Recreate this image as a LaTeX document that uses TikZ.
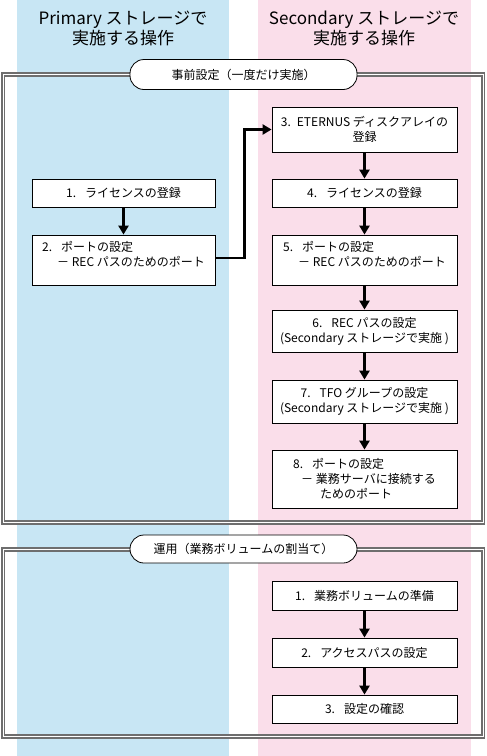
\documentclass[tikz,border=0pt]{standalone}
\usepackage{fontspec}
\setmainfont{Noto Sans CJK JP}
\usetikzlibrary{arrows.meta}
\definecolor{colblue}{RGB}{200,230,244}
\definecolor{colpink}{RGB}{250,222,234}
\definecolor{framegray}{RGB}{110,110,110}
\newcommand{\nsp}{\hspace{9pt}}
\tikzset{
  frameline/.style={draw=framegray,line width=1.5pt,double=white,double distance=1.3pt},
  pill/.style={draw=black,fill=white,line width=0.8pt,rounded corners=14pt,minimum width=227pt,minimum height=30pt,inner sep=0pt,font=\fontsize{12}{14}\selectfont},
  stepbox/.style={draw=black,fill=white,line width=0.8pt,inner sep=0pt,font=\fontsize{12}{15}\selectfont},
  lbox/.style={stepbox,minimum width=183pt},
  rbox/.style={stepbox,minimum width=185pt},
  head/.style={font=\fontsize{17}{20}\selectfont,align=center,inner sep=0pt},
  arr/.style={line width=2.8pt,-{Triangle[length=9pt,width=10pt]}}
}
\begin{document}
\begin{tikzpicture}[x=1pt,y=-1pt]
\useasboundingbox (0,0) rectangle (487,756);
% columns
\fill[colblue] (17,0) rectangle (229,756);
\fill[colpink] (258,0) rectangle (471,756);
% headers
\node[head] (hp) at (123,28) {Primary ストレージで\\実施する操作};
\node[head] (hs) at (364,28) {Secondary ストレージで\\実施する操作};
% frames
\draw[frameline] (3.3,74.5) rectangle (483.3,522.5);
\draw[frameline] (3.3,549.5) rectangle (483.3,736.5);
\node[pill] (p1) at (243.5,74.5) {事前設定（一度だけ実施）};
\node[pill,minimum height=28pt] (p2) at (243.5,549) {運用（業務ボリュームの割当て）};
% left boxes
\node[lbox,minimum height=28pt] (b1) at (123.5,193) {1.\nsp ライセンスの登録};
\node[lbox,minimum height=50pt,align=left] (b2) at (123.5,260) {2.\nsp ポートの設定\\\hspace{15pt}－ REC パスのためのポート\\[-2pt]\mbox{}};
% right boxes
\node[rbox,minimum height=45pt,align=center] (b3) at (364.5,129.5) {3.\hspace{6pt}ETERNUS ディスクアレイの\\登録};
\node[rbox,minimum height=28pt] (b4) at (364.5,193) {4.\nsp ライセンスの登録};
\node[rbox,minimum height=50pt,align=left] (b5) at (364.5,260) {5.\nsp ポートの設定\\\hspace{15pt}－ REC パスのためのポート\\[-2pt]\mbox{}};
\node[rbox,minimum height=42pt,align=center] (b6) at (364.5,331) {6.\nsp REC パスの設定\\(Secondary ストレージで実施 )};
\node[rbox,minimum height=43pt,align=center] (b7) at (364.5,401.5) {7.\nsp TFO グループの設定\\(Secondary ストレージで実施 )};
\node[rbox,minimum height=58pt,align=left] (b8) at (364.5,479) {8.\nsp ポートの設定\\\hspace{8pt}－ 業務サーバに接続する\\\hspace{27pt}ためのポート};
% operation boxes
\node[rbox,minimum height=29pt] (o1) at (364.5,595.5) {1.\nsp 業務ボリュームの準備};
\node[rbox,minimum height=29pt] (o2) at (364.5,652.5) {2.\nsp アクセスパスの設定};
\node[rbox,minimum height=28pt] (o3) at (364.5,709) {3.\nsp 設定の確認};
% arrows
\draw[arr] (b1) -- (b2);
\draw[arr] (b2.east) ++(0,-2) coordinate (b2o) -- ++(29,0) coordinate (bend) |- (b3.west);
\draw[arr] (b3) -- (b4);
\draw[arr] (b4) -- (b5);
\draw[arr] (b5) -- (b6);
\draw[arr] (b6) -- (b7);
\draw[arr] (b7) -- (b8);
\draw[arr] (o1) -- (o2);
\draw[arr] (o2) -- (o3);
\end{tikzpicture}
\end{document}
